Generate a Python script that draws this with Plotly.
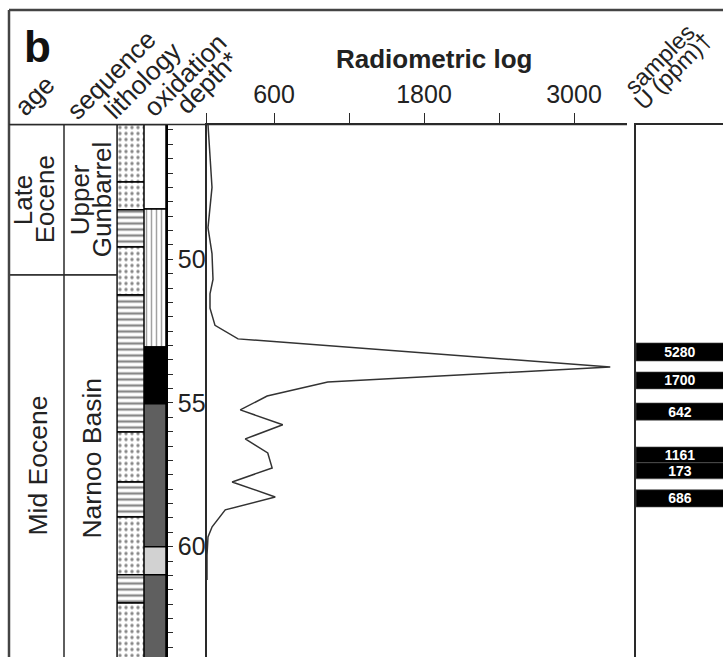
import plotly.graph_objects as go

# ---------------- data ----------------
depth_range = [63.84, 45.31]          # visible depth window (m), reversed

age_units = ["Late<br>Eocene", "Mid Eocene"]
age_tops = [45.31, 50.55]
age_bases = [50.55, 66.0]

seq_units = ["Upper<br>Gunbarrel", "Narnoo Basin"]
seq_tops = [45.31, 50.55]
seq_bases = [50.55, 66.0]

litho_types = ["sand", "sand", "silt", "sand", "silt", "sand", "silt", "sand", "silt", "sand"]
litho_tops = [45.31, 47.31, 48.28, 49.57, 51.24, 56.01, 57.75, 58.97, 60.98, 61.96]
litho_bases = [47.31, 48.28, 49.57, 51.24, 56.01, 57.75, 58.97, 60.98, 61.96, 66.0]

oxid_zones = ["white", "lined", "black", "dark", "light", "dark"]
oxid_tops = [45.31, 48.25, 53.05, 55.03, 60.00, 60.98]
oxid_bases = [48.25, 53.05, 55.03, 60.00, 60.98, 66.0]

rad_depth = [45.31, 46.2, 47.5, 48.9, 49.8, 50.7, 51.2, 51.7, 52.3, 52.77, 53.75,
             54.27, 54.76, 55.24, 55.76, 56.25, 56.74, 57.26, 57.75, 58.27, 58.72,
             59.31, 59.66, 60.3, 60.81, 61.16]
rad_counts = [72, 85, 104, 72, 104, 112, 88, 88, 128, 312, 3290,
              1030, 545, 330, 670, 370, 550, 585, 265, 610, 210,
              105, 72, 64, 66, 64]

sample_u = [5280, 1700, 642, 1161, 173, 686]
sample_tops = [52.91, 53.92, 55.00, 56.53, 57.08, 58.02]
sample_bases = [53.54, 54.51, 55.60, 57.08, 57.64, 58.62]

rad_range = [60, 3424]
rad_ticks = [600, 1200, 1800, 2400, 3000]
rad_ticklabels = ["600", "", "1800", "", "3000"]
depth_ticks = [50, 55, 60]

headers = ["age", "sequence", "lithology", "oxidation", "depth*", "samples", "U (ppm)\u2020"]

# ---------------- styling helpers ----------------
W, H = 723, 657
FONT = "Liberation Sans, Arial, sans-serif"
LINE = "#2a2a2a"


def px(x):
    return x / W


def py(y):
    return 1 - y / H


top_px = 124.5
ydom = [0, py(top_px)]

col_dom = {
    1: (9, 64),      # age
    2: (64, 117),    # sequence
    3: (117, 144),   # lithology
    4: (144, 166),   # oxidation
    5: (206.5, 627), # radiometric log
    6: (636, 723),   # samples
}

fig = go.Figure()


def thick(tops, bases):
    return [b - t for t, b in zip(tops, bases)]


# age column
fig.add_trace(go.Bar(x=[0] * len(age_tops), y=thick(age_tops, age_bases), base=age_tops,
                     width=1, marker=dict(color="white", line=dict(color=LINE, width=1.5)),
                     xaxis="x", yaxis="y", showlegend=False, hoverinfo="skip"))
# sequence column
fig.add_trace(go.Bar(x=[0] * len(seq_tops), y=thick(seq_tops, seq_bases), base=seq_tops,
                     width=1, marker=dict(color="white", line=dict(color=LINE, width=1.5)),
                     xaxis="x2", yaxis="y2", showlegend=False, hoverinfo="skip"))
# lithology column
lith_shape = {"sand": ".", "silt": "-"}
lith_size = {"sand": 6, "silt": 6}
lith_sol = {"sand": 0.25, "silt": 0.4}
fig.add_trace(go.Bar(x=[0] * len(litho_tops), y=thick(litho_tops, litho_bases), base=litho_tops,
                     width=1,
                     marker=dict(color="white", line=dict(color="black", width=1.5),
                                 pattern=dict(shape=[lith_shape[t] for t in litho_types],
                                              size=[lith_size[t] for t in litho_types],
                                              solidity=[lith_sol[t] for t in litho_types],
                                              fgcolor="#111111", bgcolor="white")),
                     xaxis="x3", yaxis="y3", showlegend=False, hoverinfo="skip"))
# oxidation column
ox_color = {"white": "white", "lined": "white", "black": "black", "dark": "#5f5f5f", "light": "#d2d2d2"}
ox_shape = {"white": "", "lined": "|", "black": "", "dark": "", "light": ""}
fig.add_trace(go.Bar(x=[0] * len(oxid_tops), y=thick(oxid_tops, oxid_bases), base=oxid_tops,
                     width=1,
                     marker=dict(color=[ox_color[z] for z in oxid_zones],
                                 line=dict(color="black", width=1.5),
                                 pattern=dict(shape=[ox_shape[z] for z in oxid_zones],
                                              size=5, solidity=0.3, fgcolor="black")),
                     xaxis="x4", yaxis="y4", showlegend=False, hoverinfo="skip"))
# radiometric log
fig.add_trace(go.Scatter(x=rad_counts, y=rad_depth, mode="lines",
                         line=dict(color="#333333", width=1.5),
                         xaxis="x5", yaxis="y5", showlegend=False, hoverinfo="skip"))
# samples
fig.add_trace(go.Bar(x=[0] * len(sample_tops), y=thick(sample_tops, sample_bases), base=sample_tops,
                     width=1, text=[str(u) for u in sample_u], textposition="inside",
                     insidetextanchor="middle", textangle=0, constraintext="none",
                     textfont=dict(family=FONT, size=14, color="white", weight="bold"),
                     marker=dict(color="black", line=dict(color="#555555", width=0.6)),
                     xaxis="x6", yaxis="y6", showlegend=False, hoverinfo="skip"))

layout = dict(width=W, height=H, margin=dict(l=0, r=0, t=0, b=0),
              paper_bgcolor="white", plot_bgcolor="rgba(0,0,0,0)",
              barmode="overlay", font=dict(family=FONT, color="#222222"))

for i in range(1, 7):
    xk = "xaxis" if i == 1 else f"xaxis{i}"
    yk = "yaxis" if i == 1 else f"yaxis{i}"
    a, b = col_dom[i]
    layout[xk] = dict(domain=[px(a), px(b)], anchor="y" if i == 1 else f"y{i}",
                      range=[-0.5, 0.5], showgrid=False, zeroline=False,
                      showticklabels=False, ticks="", fixedrange=True)
    layout[yk] = dict(domain=ydom, anchor="x" if i == 1 else f"x{i}",
                      range=depth_range, showgrid=False, zeroline=False,
                      showticklabels=False, ticks="", fixedrange=True)
    if i > 1:
        layout[yk]["matches"] = "y"

# depth axis on the right of the oxidation column
layout["yaxis4"].update(side="right", showticklabels=True, ticks="outside", ticklen=5,
                        tickwidth=1, tickcolor=LINE, tickmode="array",
                        tickvals=depth_ticks, ticktext=[str(t) for t in depth_ticks],
                        tickfont=dict(size=25, color="#222222"),
                        showline=True, linecolor="black", linewidth=1.5,
                        minor=dict(dtick=0.5, tick0=0, ticks="outside", ticklen=5,
                                   tickcolor=LINE, tickwidth=1))
# radiometric axes
layout["xaxis5"].update(range=rad_range, side="top", showticklabels=True, ticks="outside",
                        ticklen=10, tickwidth=1, tickcolor=LINE, tickmode="array",
                        tickvals=[rad_range[0]] + rad_ticks, ticktext=[""] + rad_ticklabels,
                        tickfont=dict(size=25, color="#222222"),
                        showline=True, linecolor=LINE, linewidth=1.5)
layout["yaxis5"].update(showline=True, linecolor=LINE, linewidth=1.5)
# samples box
layout["xaxis6"].update(range=[-0.5, 0.49], side="top", showline=True, linecolor=LINE, linewidth=1.5)
layout["yaxis6"].update(showline=True, linecolor=LINE, linewidth=1.5)

fig.update_layout(**layout)

# frame and header line
shapes = [
    dict(type="line", xref="paper", yref="paper", x0=px(9), x1=1, y0=py(10), y1=py(10),
         line=dict(color="#444444", width=2.5)),
    dict(type="line", xref="paper", yref="paper", x0=px(9), x1=px(9), y0=py(10), y1=0,
         line=dict(color="#444444", width=2.5)),
    dict(type="line", xref="paper", yref="paper", x0=px(9), x1=px(627), y0=py(top_px), y1=py(top_px),
         line=dict(color=LINE, width=1.5)),
]
fig.update_layout(shapes=shapes)

ann = []
# column labels (age / sequence); multi-line labels are set line by line with tight spacing
LINE_GAP = 22
for i, (names, tops, bases, xs, ys) in enumerate([
        (age_units, age_tops, age_bases, [-3, 2], [0, 0]),
        (seq_units, seq_tops, seq_bases, [0, 2], [0, 8])]):
    xr = "x" if i == 0 else "x2"
    for n, t, b, s, v in zip(names, tops, bases, xs, ys):
        mid = (t + min(b, depth_range[0])) / 2
        lines = n.split("<br>")
        k = len(lines)
        for j, ln in enumerate(lines):
            off = (j - (k - 1) / 2) * LINE_GAP
            ann.append(dict(x=0, y=mid, xref=xr, yref="y", text=ln, showarrow=False,
                            textangle=-90, xanchor="center", yanchor="middle",
                            xshift=s + off, yshift=v,
                            font=dict(size=26 if k > 1 else 26.5, color="#222222")))

# rotated headers (pixel centres, font size)
hdr_centres = [(34, 96), (111, 75), (142, 81), (185, 75), (207, 83), (660, 59), (673, 71)]
hdr_sizes = [26, 26, 26, 26, 26, 23.5, 23.5]
for txt, (cx, cy), fs in zip(headers, hdr_centres, hdr_sizes):
    ann.append(dict(x=px(cx), y=py(cy), xref="paper", yref="paper", text=txt, showarrow=False,
                    textangle=-45, xanchor="center", yanchor="middle",
                    font=dict(size=fs, color="#222222")))

ann.append(dict(x=px(434), y=py(59), xref="paper", yref="paper", text="<b>Radiometric log</b>",
                showarrow=False, xanchor="center", yanchor="middle",
                font=dict(size=26, color="#222222")))
ann.append(dict(x=px(37), y=py(46), xref="paper", yref="paper", text="<b>b</b>",
                showarrow=False, xanchor="center", yanchor="middle",
                font=dict(size=44, color="#111111")))
fig.update_layout(annotations=ann)

fig.write_html("out.html")
